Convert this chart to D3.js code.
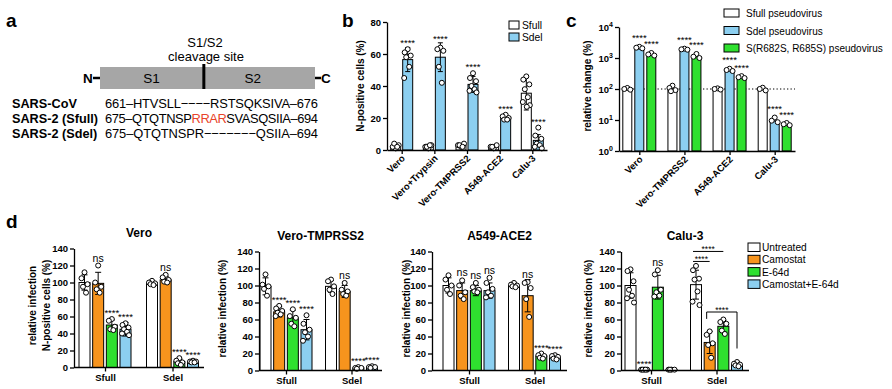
<!DOCTYPE html>
<html><head><meta charset="utf-8">
<script src="https://cdn.jsdelivr.net/npm/d3@7"></script>
<style>
body{margin:0;background:#fff;}
svg{font-family:"Liberation Sans",Arial,Helvetica,sans-serif;}
</style></head><body>
<svg id="chart" width="892" height="389"></svg>
<script>
// ===================== DATA =====================
// Panel a
const seqNames = ["SARS-CoV", "SARS-2 (Sfull)", "SARS-2 (Sdel)"];
const seqParts = [
  [["661–HTVSLL−−−−RSTSQKSIVA–676", false]],
  [["675–QTQTNSP", false], ["RRAR", true], ["SVASQSIIA–694", false]],
  [["675–QTQTNSPR−−−−−−−QSIIA–694", false]]
];
const domainLabels = ["S1", "S2"];

// Panel b
const bCells = ["Vero", "Vero+Trypsin", "Vero-TMPRSS2", "A549-ACE2", "Calu-3"];
const bSeries = ["Sfull", "Sdel"];
const bSfullMean = [2, 2.5, 3, 2, 35.5];
const bSfullSD = [1, 1, 1, 1, 10.5];
const bSdelMean = [56.5, 58, 41, 20.5, 6];
const bSdelSD = [7.5, 9, 5, 1.5, 3.6];
const bSfullPts = [[1, 2, 3, 4, 2], [1, 2, 3, 2, 3], [2, 3, 4, 3, 2], [1, 2, 3, 2], [46, 44, 41, 38, 33, 30, 28, 27]];
const bSdelPts = [[63, 61, 59, 58, 52, 45], [64, 63, 62, 52, 42], [48, 45, 43, 40, 38, 37, 36], [22, 21, 20, 19, 19], [14, 9, 7, 4, 3, 2, 1]];
const bSfullSig = ["", "", "", "", ""];
const bSdelSig = ["****", "****", "****", "****", "****"];
const bTicks = [0, 20, 40, 60, 80];

// Panel c
const cCells = ["Vero", "Vero-TMPRSS2", "A549-ACE2", "Calu-3"];
const cSeries = ["Sfull pseudovirus", "Sdel pseudovirus", "S(R682S, R685S) pseudovirus"];
const cSfull = [100, 100, 100, 100];
const cSdel = [2150, 1900, 400, 9.3];
const cMut = [1300, 1100, 240, 7.3];
const cSfullPts = [[108, 100, 95], [128, 108, 92, 85], [105, 100, 96], [110, 100, 90]];
const cSdelPts = [[2300, 2150, 2050], [2000, 1900, 1850], [450, 410, 380], [12, 9.5, 8.5]];
const cMutPts = [[1450, 1300, 1200], [1350, 1100, 1000], [260, 240, 225], [8, 7.3, 6.8]];
const cSig = [["", "****", "****"], ["", "****", "****"], ["", "****", "****"], ["", "****", "****"]];
const cTicks = [1, 10, 100, 1000, 10000];

// Panel d
const dGroups = ["Sfull", "Sdel"];
const dTreat = ["Untreated", "Camostat", "E-64d", "Camostat+E-64d"];
const dTicks = [0, 20, 40, 60, 80, 100, 120, 140];

const veroMean = [[100, 99, 50, 45], [100, 103, 7, 7]];
const veroSD = [[9, 13, 6, 8], [2, 4, 3, 1.5]];
const veroPts = [[[112, 105, 98, 95, 88], [120, 100, 95, 92, 88], [57, 55, 48, 45, 44], [52, 50, 47, 45, 42, 40, 38]],
                 [[102, 100, 99, 98, 97], [109, 106, 103, 101, 100], [11, 8, 6, 5, 3], [8, 7, 7, 6, 6]]];
const veroSig = [["", "ns", "****", "****"], ["", "ns", "****", "****"]];

const tmMean = [[99, 69, 62, 48], [99, 93, 3, 4]];
const tmSD = [[10, 6, 9, 12], [7, 7, 1, 1]];
const tmPts = [[[113, 101, 99, 96, 88], [76, 73, 70, 68, 66, 64], [72, 64, 62, 55, 52], [65, 55, 48, 45, 40, 35]],
               [[107, 105, 99, 95, 90], [103, 95, 93, 90, 88], [4, 3, 3, 2], [5, 4, 4, 3]]];
const tmSig = [["", "****", "****", "****"], ["", "ns", "****", "****"]];

const aMean = [[100, 94, 94, 94], [100, 88, 17, 15]];
const aSD = [[9, 9, 6, 9], [2, 19, 3, 3]];
const aPts = [[[112, 107, 100, 95, 90], [106, 100, 92, 88, 84], [103, 98, 95, 93, 92], [109, 103, 96, 92, 88, 86]],
              [[103, 101, 100, 99, 98], [104, 103, 97, 84, 63], [20, 18, 17, 15, 14], [18, 17, 16, 14, 13]]];
const aSig = [["", "ns", "ns", "ns"], ["", "ns", "****", "****"]];

const caluMean = [[100, 1, 98, 1], [101, 33, 52, 7]];
const caluSD = [[15, 0.5, 14, 0.5], [17, 13, 7, 3]];
const caluPts = [[[119, 117, 105, 95, 88, 85, 80], [1, 1, 1, 1, 1], [118, 113, 95, 92, 88, 87], [1, 1, 1, 1]],
                 [[123, 118, 108, 107, 93, 81, 77], [46, 42, 32, 30, 15], [60, 57, 55, 47, 43], [10, 8, 7, 6, 5]]];
const caluSig = [["", "****", "ns", ""], ["", "", "", ""]];
const caluBrackets = [
  { group: "Sdel", from: "Untreated", to: "Camostat", label: "****", level: 0, legs: false },
  { group: "Sdel", from: "Untreated", to: "E-64d", label: "****", level: 1, legs: false },
  { group: "Sdel", from: "Camostat", to: "Camostat+E-64d", label: "****", level: 0, legs: true }
];

// ===================== STYLE =====================
const BLUE = "#8ccff0", GREEN = "#2fe02f", ORANGE = "#f7941d", GREY = "#a6a6a6", RED = "#e8432a";
const dColors = ["#ffffff", ORANGE, GREEN, BLUE];
const bColors = ["#ffffff", BLUE];
const cColors = ["#ffffff", BLUE, GREEN];
const jitter = [0, -3, 3, -1.5, 1.5, -3.5, 3.5, 0.5];
const svg = d3.select("#chart");

function letter(t, x, y) {
  svg.append("text").attr("x", x).attr("y", y).attr("font-size", 19).attr("font-weight", "bold").text(t);
}
function styleAxis(a, fs) {
  a.select(".domain").attr("stroke", "#000").attr("stroke-width", 1.3);
  a.selectAll(".tick line").attr("stroke", "#000").attr("stroke-width", 1.3);
  a.selectAll(".tick text").attr("font-weight", "bold").attr("font-size", fs || 9.5).attr("fill", "#000")
    .attr("font-family", "'Liberation Sans', Arial, sans-serif");
}
function yLabel(g, txt, x, y, fs) {
  g.append("text").attr("transform", `translate(${x},${y}) rotate(-90)`).attr("text-anchor", "middle")
    .attr("dominant-baseline", "central").attr("font-weight", "bold").attr("font-size", fs || 10).text(txt);
}
function bar(g, cx, w, yTop, yBot, fill) {
  g.append("rect").attr("x", cx - w / 2).attr("y", yTop).attr("width", w).attr("height", Math.max(0, yBot - yTop))
    .attr("fill", fill).attr("stroke", "#000").attr("stroke-width", 1);
}
function errBar(g, cx, yHi, yLo, cap) {
  g.append("line").attr("x1", cx).attr("x2", cx).attr("y1", yHi).attr("y2", yLo).attr("stroke", "#000").attr("stroke-width", 1);
  [yHi, yLo].forEach(yy => g.append("line").attr("x1", cx - cap / 2).attr("x2", cx + cap / 2).attr("y1", yy).attr("y2", yy)
    .attr("stroke", "#000").attr("stroke-width", 1));
}
function points(g, cx, ys) {
  ys.forEach((yy, i) => g.append("circle").attr("cx", cx + jitter[i % jitter.length]).attr("cy", yy).attr("r", 2.5)
    .attr("fill", "#fff").attr("stroke", "#000").attr("stroke-width", 1));
}
function sigText(g, cx, topPx, txt) {
  if (!txt) return;
  const isStar = txt.indexOf("*") >= 0;
  g.append("text").attr("x", cx).attr("y", isStar ? topPx - 0.5 : topPx - 1.5).attr("text-anchor", "middle")
    .attr("font-size", isStar ? 9.5 : 10.5).text(txt);
}
function rotLabels(g, scale, cats, yAxis) {
  cats.forEach(c => g.append("text").attr("transform", `translate(${scale(c) + 4},${yAxis + 9}) rotate(-45)`)
    .attr("text-anchor", "end").attr("font-weight", "bold").attr("font-size", 9.5).text(c));
}

// ===================== PANEL A =====================
letter("a", 6, 27);
const gA = svg.append("g");
const prot = d3.scaleLinear().domain([0, 1]).range([100, 315]);
gA.append("rect").attr("x", prot(0)).attr("y", 67).attr("width", prot(1) - prot(0)).attr("height", 22).attr("fill", GREY);
gA.append("line").attr("x1", prot(0.483)).attr("x2", prot(0.483)).attr("y1", 64).attr("y2", 89).attr("stroke", "#000").attr("stroke-width", 3);
gA.append("text").attr("x", prot(0.24)).attr("y", 83).attr("text-anchor", "middle").attr("font-size", 13.5).text(domainLabels[0]);
gA.append("text").attr("x", prot(0.71)).attr("y", 83).attr("text-anchor", "middle").attr("font-size", 13.5).text(domainLabels[1]);
gA.append("text").attr("x", 205).attr("y", 47).attr("text-anchor", "middle").attr("font-size", 13).text("S1/S2");
gA.append("text").attr("x", 206).attr("y", 61).attr("text-anchor", "middle").attr("font-size", 13).text("cleavage site");
gA.append("text").attr("x", 83).attr("y", 83).attr("font-weight", "bold").attr("font-size", 13.5).text("N");
gA.append("line").attr("x1", 93).attr("x2", 100).attr("y1", 78).attr("y2", 78).attr("stroke", "#000").attr("stroke-width", 2.5);
gA.append("line").attr("x1", 315).attr("x2", 321).attr("y1", 78).attr("y2", 78).attr("stroke", "#000").attr("stroke-width", 2.5);
gA.append("text").attr("x", 321).attr("y", 83).attr("font-weight", "bold").attr("font-size", 13.5).text("C");
seqNames.forEach((n, i) => {
  const yy = 108 + i * 15;
  gA.append("text").attr("x", 12).attr("y", yy).attr("font-weight", "bold").attr("font-size", 12.7).text(n);
  const t = gA.append("text").attr("x", 105).attr("y", yy).attr("font-size", 12.9)
    .attr("textLength", 213).attr("lengthAdjust", "spacing");
  seqParts[i].forEach(p => t.append("tspan").attr("fill", p[1] ? RED : "#000").text(p[0]));
});

// ===================== PANEL B =====================
letter("b", 342, 27);
const gB = svg.append("g");
const yB = d3.scaleLinear().domain([0, 80]).range([150, 22]);
const xB = d3.scalePoint().domain(bCells).range([387, 547]).padding(0.45);
const sB = d3.scalePoint().domain(bSeries).range([-6, 6]);
const bMeans = [bSfullMean, bSdelMean], bSDs = [bSfullSD, bSdelSD], bPts = [bSfullPts, bSdelPts], bSig = [bSfullSig, bSdelSig];
bCells.forEach((c, i) => {
  bSeries.forEach((s, k) => {
    const cx = xB(c) + sB(s);
    const m = bMeans[k][i], sd = bSDs[k][i];
    bar(gB, cx, 10, yB(m), yB(0), bColors[k]);
    errBar(gB, cx, yB(m + sd), yB(Math.max(0, m - sd)), 5);
    points(gB, cx, bPts[k][i].map(v => yB(v)));
    const top = Math.min(yB(m + sd), d3.min(bPts[k][i], v => yB(v)) - 2.5);
    sigText(gB, cx, top, bSig[k][i]);
  });
});
styleAxis(gB.append("g").attr("transform", "translate(387,0)").call(d3.axisLeft(yB).tickValues(bTicks).tickSize(4).tickPadding(2).tickSizeOuter(0)));
styleAxis(gB.append("g").attr("transform", "translate(0,150)").call(d3.axisBottom(xB).tickSize(4).tickSizeOuter(0).tickFormat("")));
rotLabels(gB, xB, bCells, 150);
yLabel(gB, "N-positive cells (%)", 360, 86, 10);
bSeries.forEach((s, k) => {
  gB.append("rect").attr("x", 509).attr("y", 21 + k * 12).attr("width", 10).attr("height", 8).attr("fill", bColors[k]).attr("stroke", "#000");
  gB.append("text").attr("x", 522).attr("y", 29 + k * 12).attr("font-size", 10.3).text(s);
});

// ===================== PANEL C =====================
letter("c", 566, 27);
const gC = svg.append("g");
const yC = d3.scaleLog().domain([1, 10000]).range([151, 27]);
const xC = d3.scalePoint().domain(cCells).range([619, 795]).padding(0.45);
const sC = d3.scalePoint().domain(cSeries).range([-12, 12]);
const cVals = [cSfull, cSdel, cMut], cPts = [cSfullPts, cSdelPts, cMutPts];
gC.append("line").attr("x1", 619).attr("x2", 795).attr("y1", yC(100)).attr("y2", yC(100))
  .attr("stroke", "#000").attr("stroke-width", 1.2).attr("stroke-dasharray", "1.3,2.2");
cCells.forEach((c, i) => {
  cSeries.forEach((s, k) => {
    const cx = xC(c) + sC(s);
    bar(gC, cx, 9, yC(cVals[k][i]), yC(1), cColors[k]);
    points(gC, cx, cPts[k][i].map(v => yC(v)));
    const top = d3.min(cPts[k][i], v => yC(v)) - 2.5;
    if (cSig[i][k]) gC.append("text").attr("x", cx).attr("y", top - 3).attr("text-anchor", "middle").attr("font-size", 9.5).text(cSig[i][k]);
  });
});
const axC = gC.append("g").attr("transform", "translate(619,0)").call(d3.axisLeft(yC).tickValues(cTicks).tickSize(4).tickPadding(2).tickSizeOuter(0).tickFormat(""));
styleAxis(axC);
axC.selectAll(".tick").each(function (d) {
  const t = d3.select(this).append("text").attr("x", -6).attr("y", 3.5).attr("text-anchor", "end")
    .attr("font-weight", "bold").attr("font-size", 9.5).attr("fill", "#000");
  t.append("tspan").text("10");
  t.append("tspan").attr("dy", -4).attr("font-size", 7).text(Math.round(Math.log10(d)));
});
styleAxis(gC.append("g").attr("transform", "translate(0,151)").call(d3.axisBottom(xC).tickSize(4).tickSizeOuter(0).tickFormat("")));
rotLabels(gC, xC, cCells, 151);
yLabel(gC, "relative change (%)", 587, 86, 10);
cSeries.forEach((s, k) => {
  gC.append("rect").attr("x", 724).attr("y", 9 + k * 17.5).attr("width", 15).attr("height", 8).attr("fill", cColors[k]).attr("stroke", "#000");
  gC.append("text").attr("x", 746).attr("y", 17 + k * 17.5).attr("font-size", 10).text(s);
});

// ===================== PANEL D =====================
letter("d", 6, 228);
const dLayouts = [
  { title: "Vero", mean: veroMean, sd: veroSD, pts: veroPts, sig: veroSig, x0: 74, x1: 204, c0: 105, c1: 172.5, y0: 367.5,
    ylab: ["relative infection", "N-positive cells (%)"], ylx: [32, 46] },
  { title: "Vero-TMPRSS2", mean: tmMean, sd: tmSD, pts: tmPts, sig: tmSig, x0: 259, x1: 382, c0: 286, c1: 351.5, y0: 370.5,
    ylab: ["relative infection (%)"], ylx: [222] },
  { title: "A549-ACE2", mean: aMean, sd: aSD, pts: aPts, sig: aSig, x0: 432, x1: 567, c0: 469, c1: 534.5, y0: 370.5,
    ylab: ["relative infection (%)"], ylx: [406] },
  { title: "Calu-3", mean: caluMean, sd: caluSD, pts: caluPts, sig: caluSig, x0: 621, x1: 749, c0: 651, c1: 716.5, y0: 370.5,
    ylab: ["relative infection (%)"], ylx: [588], brackets: caluBrackets }
];
const sD = d3.scalePoint().domain(dTreat).range([-20.5, 20.5]);
dLayouts.forEach(L => {
  const g = svg.append("g");
  const y = d3.scaleLinear().domain([0, 140]).range([L.y0, L.y0 - 119]);
  const xg = d3.scalePoint().domain(dGroups).range([L.c0, L.c1]);
  const topOf = {};
  dGroups.forEach((grp, gi) => {
    dTreat.forEach((tr, ti) => {
      const cx = xg(grp) + sD(tr);
      const m = L.mean[gi][ti], sd = L.sd[gi][ti];
      bar(g, cx, 11, y(m), y(0), dColors[ti]);
      errBar(g, cx, y(m + sd), y(Math.max(0, m - sd)), 6);
      points(g, cx, L.pts[gi][ti].map(v => y(v)));
      const top = Math.min(y(m + sd), d3.min(L.pts[gi][ti], v => y(v)) - 2.5);
      topOf[grp + "|" + tr] = top;
      sigText(g, cx, top, L.sig[gi][ti]);
    });
  });
  if (L.brackets) {
    L.brackets.forEach(b => {
      const xa = xg(b.group) + sD(b.from) - 3, xb = xg(b.group) + sD(b.to);
      const span = dTreat.slice(dTreat.indexOf(b.from), dTreat.indexOf(b.to) + 1);
      const maxTop = d3.min(span, t => topOf[b.group + "|" + t]);
      const ly = maxTop - 2 - b.level * 10 - (b.legs ? 3 : 0);
      g.append("line").attr("x1", xa).attr("x2", xb).attr("y1", ly).attr("y2", ly).attr("stroke", "#000").attr("stroke-width", 1);
      if (b.legs) {
        g.append("line").attr("x1", xa).attr("x2", xa).attr("y1", ly).attr("y2", topOf[b.group + "|" + b.from] - 10).attr("stroke", "#000");
        g.append("line").attr("x1", xb).attr("x2", xb).attr("y1", ly).attr("y2", topOf[b.group + "|" + b.to] - 11).attr("stroke", "#000");
      }
      g.append("text").attr("x", (xa + xb) / 2).attr("y", ly + 1).attr("text-anchor", "middle").attr("font-size", 8.5).text(b.label);
    });
  }
  styleAxis(g.append("g").attr("transform", `translate(${L.x0},0)`).call(d3.axisLeft(y).tickValues(dTicks).tickSize(4).tickPadding(2).tickSizeOuter(0)));
  const ax = g.append("g").attr("transform", `translate(0,${L.y0})`).call(d3.axisBottom(xg).tickSize(4).tickPadding(3).tickSizeOuter(0));
  ax.select(".domain").remove();
  g.append("line").attr("x1", L.x0).attr("x2", L.x1).attr("y1", L.y0).attr("y2", L.y0).attr("stroke", "#000").attr("stroke-width", 1.3);
  styleAxis(ax);
  g.append("text").attr("x", (L.x0 + L.x1) / 2).attr("y", L.y0 - 131).attr("text-anchor", "middle")
    .attr("font-weight", "bold").attr("font-size", 12).text(L.title);
  L.ylab.forEach((t, i) => yLabel(g, t, L.ylx[i], L.y0 - 62, 10));
});
// legend d
const gL = svg.append("g");
dTreat.forEach((t, k) => {
  gL.append("rect").attr("x", 748).attr("y", 243 + k * 12.3).attr("width", 12).attr("height", 8.5).attr("fill", dColors[k]).attr("stroke", "#000");
  gL.append("text").attr("x", 762).attr("y", 251 + k * 12.3).attr("font-size", 10.2).text(t);
});
</script>
</body></html>
